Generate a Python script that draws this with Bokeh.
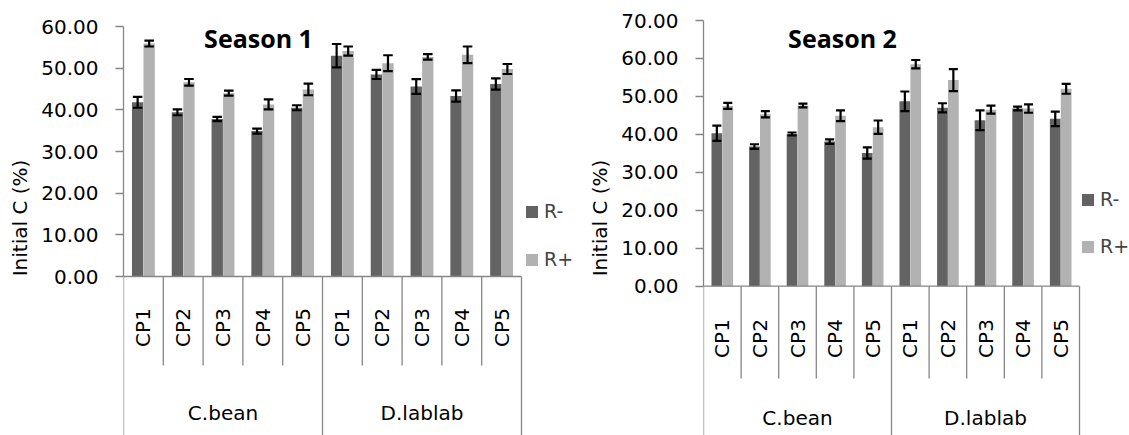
import numpy as np
from bokeh.plotting import figure
from bokeh.layouts import row
from bokeh.models import Range1d, FixedTicker, PrintfTickFormatter, Legend, LegendItem
from bokeh.core.properties import value
from bokeh.embed import file_html
from bokeh.resources import INLINE

# ---------------- data ----------------
crops = ["C.bean", "D.lablab"]
practices = ["CP1", "CP2", "CP3", "CP4", "CP5"]
series_names = ["R-", "R+"]

s1_rminus = [41.8, 39.4, 37.8, 34.9, 40.5, 53.0, 48.5, 45.6, 43.3, 46.2]
s1_rminus_err = [1.3, 0.7, 0.5, 0.6, 0.6, 2.8, 1.1, 1.75, 1.35, 1.35]
s1_rplus = [55.9, 46.6, 44.0, 41.3, 44.9, 54.1, 51.2, 52.7, 53.2, 49.8]
s1_rplus_err = [0.7, 0.8, 0.6, 1.2, 1.4, 1.1, 1.9, 0.65, 2.0, 1.2]

s2_rminus = [40.3, 36.8, 40.1, 38.1, 35.1, 48.7, 47.0, 43.7, 46.8, 44.1]
s2_rminus_err = [2.0, 0.6, 0.4, 0.6, 1.5, 2.6, 1.2, 2.6, 0.5, 1.9]
s2_rplus = [47.5, 45.3, 47.6, 44.9, 41.9, 58.5, 54.3, 46.5, 46.8, 52.0]
s2_rplus_err = [0.8, 0.8, 0.5, 1.4, 1.75, 1.1, 2.9, 1.05, 1.1, 1.3]

y_ticks_1 = [0, 10, 20, 30, 40, 50, 60]
y_ticks_2 = [0, 10, 20, 30, 40, 50, 60, 70]

# ---------------- style ----------------
FONT = "DejaVu Sans"
TITLE_FONT = "Open Sans"
DARK = "#636363"
LIGHT = "#b2b2b2"
AXIS = "#868686"
FIG_H = 435


def make_chart(title, rm, rm_err, rp, rp_err, ticks, fig_w, left_px, cat_px,
               top_px, unit_px, cp_px, inner_px, grp_px, title_x_px, title_base_px,
               legend_loc, legend_spacing):
    ymax = ticks[-1]
    y_end = ymax + top_px / unit_px
    y_start = ymax - (FIG_H - top_px) / unit_px
    x_end = (fig_w - left_px) / cat_px

    def dy(rel_px):
        return ymax - (rel_px - top_px) / unit_px

    p = figure(width=fig_w, height=FIG_H, output_backend="svg", toolbar_location=None,
               tools="", title=None, x_axis_location=None,
               x_range=Range1d(0, x_end), y_range=Range1d(y_start, y_end),
               min_border_left=left_px, min_border_right=0,
               min_border_top=0, min_border_bottom=0)
    p.outline_line_color = None
    p.xgrid.visible = False
    p.ygrid.visible = False

    n = len(crops) * len(practices)
    xs = np.arange(n) + 0.5
    off, bw, cap = 0.145, 0.285, 0.12

    r1 = p.vbar(x=xs - off, top=rm, width=bw, bottom=0, fill_color=DARK, line_color=None)
    r2 = p.vbar(x=xs + off, top=rp, width=bw, bottom=0, fill_color=LIGHT, line_color=None)

    for xc, vals, errs in ((xs - off, rm, rm_err), (xs + off, rp, rp_err)):
        vals = np.array(vals); errs = np.array(errs)
        lo, hi = vals - errs, vals + errs
        p.segment(x0=xc, y0=lo, x1=xc, y1=hi, line_color="black", line_width=2.2)
        p.segment(x0=xc - cap, y0=lo, x1=xc + cap, y1=lo, line_color="black", line_width=2.2)
        p.segment(x0=xc - cap, y0=hi, x1=xc + cap, y1=hi, line_color="black", line_width=2.2)

    # category axis
    p.segment(x0=[0], y0=[0], x1=[n], y1=[0], line_color=AXIS, line_width=1.3)
    bounds = np.arange(n + 1)
    outer = [b for b in bounds if b % len(practices) == 0]
    inner = [b for b in bounds if b % len(practices) != 0]
    p.segment(x0=outer, y0=[0] * len(outer), x1=outer, y1=[y_start] * len(outer),
              line_color=AXIS, line_width=1.3)
    p.segment(x0=inner, y0=[0] * len(inner), x1=inner, y1=[dy(inner_px)] * len(inner),
              line_color=AXIS, line_width=1.3)

    labels = [pr for c in crops for pr in practices]
    p.text(x=xs, y=[dy(cp_px)] * n, text=labels, angle=np.pi / 2,
           text_align="center", text_baseline="middle",
           text_font=value(FONT), text_font_size="20px", text_color="black")
    gx = [len(practices) * (i + 0.5) for i in range(len(crops))]
    p.text(x=gx, y=[dy(grp_px)] * len(crops), text=crops,
           text_align="center", text_baseline="middle",
           text_font=value(FONT), text_font_size="20px", text_color="black")

    # title
    p.text(x=[(title_x_px - left_px) / cat_px], y=[dy(title_base_px)], text=[title],
           text_align="center", text_baseline="alphabetic",
           text_font=value(TITLE_FONT), text_font_style="bold",
           text_font_size="25px", text_color="black")

    ax = p.yaxis[0]
    ax.ticker = FixedTicker(ticks=ticks)
    ax.bounds = (0, ymax)
    ax.formatter = PrintfTickFormatter(format="%.2f")
    ax.axis_line_color = AXIS
    ax.axis_line_width = 1.3
    ax.major_tick_line_color = AXIS
    ax.major_tick_line_width = 1.3
    ax.major_tick_out = 8
    ax.major_tick_in = 0
    ax.minor_tick_line_color = None
    ax.major_label_text_font = FONT
    ax.major_label_text_font_size = "20px"
    ax.major_label_text_color = "black"
    ax.major_label_standoff = 17
    ax.axis_label = "Initial C (%)"
    ax.axis_label_text_font = FONT
    ax.axis_label_text_font_size = "20px"
    ax.axis_label_text_font_style = "normal"
    ax.axis_label_text_color = "black"
    ax.axis_label_standoff = 6

    legend = Legend(items=[LegendItem(label=series_names[0], renderers=[r1]),
                           LegendItem(label=series_names[1], renderers=[r2])],
                    location=legend_loc, orientation="vertical",
                    glyph_width=15, glyph_height=15, label_standoff=5,
                    label_text_font=FONT, label_text_font_size="19px",
                    spacing=legend_spacing, padding=0, margin=0,
                    border_line_color=None, background_fill_alpha=0)
    p.add_layout(legend)
    return p


p1 = make_chart("Season 1", s1_rminus, s1_rminus_err, s1_rplus, s1_rplus_err, y_ticks_1,
                fig_w=580, left_px=123, cat_px=39.8, top_px=26, unit_px=4.1667,
                cp_px=327, inner_px=365, grp_px=412, title_x_px=258, title_base_px=37,
                legend_loc=(401, 165), legend_spacing=26)
p2 = make_chart("Season 2", s2_rminus, s2_rminus_err, s2_rplus, s2_rplus_err, y_ticks_2,
                fig_w=549, left_px=123, cat_px=37.6, top_px=20, unit_px=3.796,
                cp_px=338, inner_px=378, grp_px=417, title_x_px=262, title_base_px=37,
                legend_loc=(377, 178), legend_spacing=25)

layout = row(p1, p2)
open("out.html", "w").write(file_html(layout, INLINE))
